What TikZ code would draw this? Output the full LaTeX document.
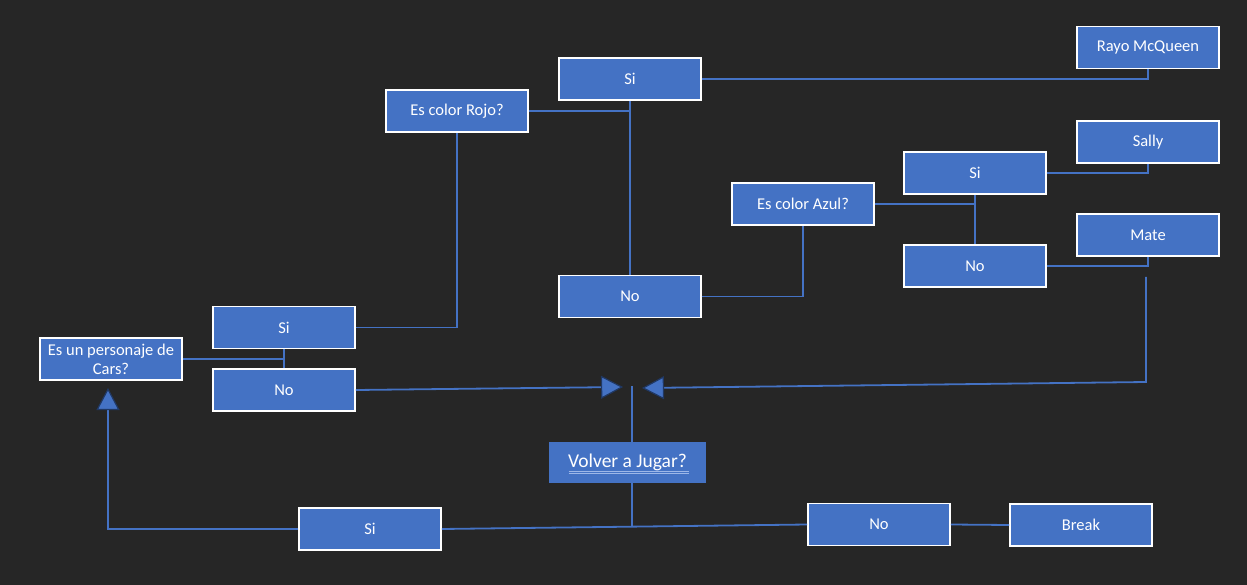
\documentclass[tikz,border=0pt]{standalone}
\usepackage{fontspec}
\setmainfont{Carlito}
\usetikzlibrary{arrows.meta}
\definecolor{bg}{HTML}{262626}
\definecolor{boxblue}{HTML}{4472C4}
\definecolor{lineblue}{HTML}{4472C4}
\definecolor{arrowdark}{HTML}{203864}
\definecolor{ulblue}{HTML}{9DB7E8}
\tikzset{
  box/.style={fill=boxblue, draw=white, line width=1.6pt, minimum width=142pt, minimum height=42pt,
    inner sep=0pt, text=white, font=\fontsize{16.5}{19}\selectfont, align=center},
  bigbox/.style={fill=boxblue, minimum width=157pt, minimum height=41pt, inner sep=0pt,
    text=white, font=\fontsize{19.5}{21}\selectfont},
  conn/.style={draw=lineblue, line width=1.8pt},
  arrowed/.style={conn, -{Triangle[length=22pt,width=23pt,fill=boxblue,color=arrowdark,line width=1.2pt]}},
  ul/.style={draw=ulblue, line width=0.9pt}
}
\begin{document}
\begin{tikzpicture}[x=1pt,y=-1pt]
\fill[bg] (0,0) rectangle (1247,585);
\useasboundingbox (0,0) rectangle (1247,585);

\node[box] (pers) at (111,359) {Es un personaje de\\Cars?};
\node[box] (si1) at (284,327.5) {Si};
\node[box] (no1) at (284,390) {No};
\node[box] (rojo) at (457,111) {Es color Rojo?};
\node[box] (si2) at (630,79) {Si};
\node[box] (no2) at (630,296.5) {No};
\node[box] (rayo) at (1148,47.5) {Rayo McQueen};
\node[box] (azul) at (803,204) {Es color Azul?};
\node[box] (si3) at (975,173) {Si};
\node[box] (no3) at (975,266) {No};
\node[box] (sally) at (1148,142) {Sally};
\node[box] (mate) at (1148,235) {Mate};
\node[bigbox] (volver) at (627.5,462.5) {Volver a Jugar?};
\node[box] (si4) at (370,529) {Si};
\node[box] (no4) at (879,524.5) {No};
\node[box] (brk) at (1081,525) {Break};

\draw[ul] ([shift={(-59,8.5)}]volver.center) -- ([shift={(61,8.5)}]volver.center);
\draw[ul] ([shift={(-59,11)}]volver.center) -- ([shift={(61,11)}]volver.center);

\coordinate (mtop) at (1146,277);
\coordinate (mcorner) at (1146,382);
\coordinate (tipR) at (642,388);
\coordinate (tipL) at (623,387);
\coordinate (vtop) at (632,386);
\coordinate (junc) at (632,527);
\coordinate (scorner) at (108,529);
\coordinate (tipU) at (108,388);

\draw[conn] (pers.east) -- (pers.east -| si1.south);
\draw[conn] (si1.south) -- (no1.north);
\draw[conn] (si1.east) -| (rojo.south);
\draw[conn] (rojo.east) -- (rojo.east -| si2.south);
\draw[conn] (si2.south) -- (no2.north);
\draw[conn] (si2.east) -| (rayo.south);
\draw[conn] (no2.east) -| (azul.south);
\draw[conn] (azul.east) -- (azul.east -| si3.south);
\draw[conn] (si3.south) -- (no3.north);
\draw[conn] (si3.east) -| (sally.south);
\draw[conn] (no3.east) -| (mate.south);

\draw[arrowed] (mtop) -- (mcorner) -- (tipR);
\draw[arrowed] (no1.east) -- (tipL);
\draw[conn] (volver.north -| vtop) -- (vtop);
\draw[conn] (volver.south -| junc) -- (junc);
\draw[conn] (si4.east) -- (no4.west);
\draw[conn] (no4.east) -- (brk.west);
\draw[arrowed] (si4.west) -- (scorner) -- (tipU);
\end{tikzpicture}
\end{document}
